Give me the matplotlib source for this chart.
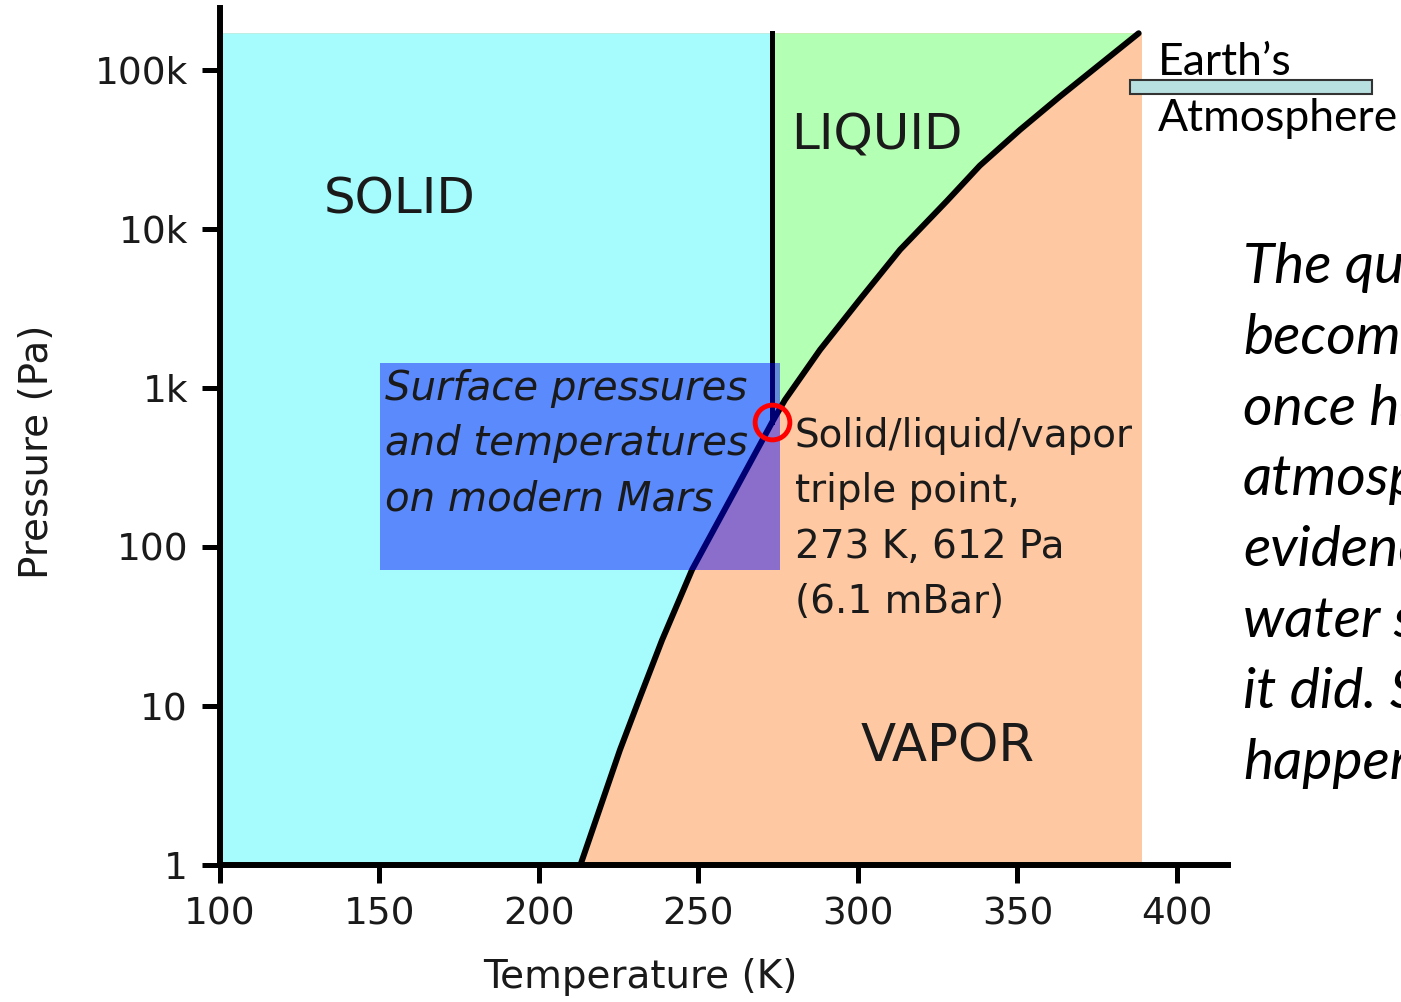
import numpy as np
import matplotlib.pyplot as plt
from matplotlib.patches import Rectangle

# sublimation / vaporization curve (K, Pa)
curveT = [213, 225.4, 231.7, 238.6, 248.0, 273.16, 277.1, 288.1, 300.6, 313.2, 327.9, 338.2, 350.8, 363.3, 388]
curveP = [1, 5.3, 11.4, 26, 72, 612, 840, 1735, 3600, 7400, 15000, 25000, 42000, 68000, 170000]
tripleT = 273.16
tripleP = 612
topP = 170000
rightT = 389

# Mars surface box
marsT = [150.2, 275.5]
marsP = [71.6, 1436]

xticks = [100, 150, 200, 250, 300, 350, 400]
yticks = [1, 10, 100, 1000, 10000, 100000]
ylabels = ['1', '10', '100', '1k', '10k', '100k']

sideLines = ["The question", "become", "once had", "atmosphere",
             "evidence", "water s", "it did. So", "happened"]

ink = '#1a1a1a'
fig = plt.figure(figsize=(14.01, 10.02), dpi=100)
ax = fig.add_axes([0.1570, 0.1367, 0.7195, 0.8553])
ax.set_yscale('log')
ax.set_xlim(100, 416)
ax.set_ylim(1, 245000)

i3 = curveT.index(tripleT)
lowT, lowP = curveT[:i3 + 1], curveP[:i3 + 1]
upT, upP = curveT[i3:], curveP[i3:]

# vapor (whole block), then solid and liquid on top
ax.fill([100, rightT, rightT, 100], [1, 1, topP, topP], color='#fdc8a2', lw=0, zorder=1)
ax.fill([100] + lowT + [tripleT, 100], [1] + lowP + [topP, topP], color='#a6fcfc', lw=0, zorder=1)
ax.fill(upT + [tripleT], upP + [topP], color='#b3ffb3', lw=0, zorder=1)

ax.plot(curveT, curveP, color='black', lw=4.3, zorder=2, solid_capstyle='round',
        solid_joinstyle='round')
ax.plot([tripleT, tripleT], [tripleP, topP], color='black', lw=3.6, zorder=2)

ax.add_patch(Rectangle((marsT[0], marsP[0]), marsT[1] - marsT[0], marsP[1] - marsP[0],
                       facecolor=(0, 0, 1, 0.45), edgecolor='none', zorder=3))
ax.plot(tripleT, tripleP, 'o', ms=25, mfc='none', mec='red', mew=3.5, zorder=4)

ax.text(156.4, 15400, 'SOLID', fontsize=36, color=ink, ha='center', va='center', zorder=5)
ax.text(305.9, 38500, 'LIQUID', fontsize=36, color=ink, ha='center', va='center', zorder=5)
ax.text(328.2, 5.5, 'VAPOR', fontsize=37, color=ink, ha='center', va='center', zorder=5)
ax.text(151.7, 445, 'Surface pressures\nand temperatures\non modern Mars', fontsize=29,
        style='italic', color=ink, ha='left', va='center', linespacing=1.52, zorder=5)
ax.text(280.2, 150, 'Solid/liquid/vapor\ntriple point,\n273 K, 612 Pa\n(6.1 mBar)', fontsize=28,
        color=ink, ha='left', va='center', linespacing=1.58, zorder=5)

for s in ['top', 'right']:
    ax.spines[s].set_visible(False)
for s in ['left', 'bottom']:
    ax.spines[s].set_linewidth(4.3)
    ax.spines[s].set_zorder(6)
ax.set_xticks(xticks)
ax.set_yticks(yticks)
ax.set_yticklabels(ylabels)
ax.yaxis.set_minor_locator(plt.NullLocator())
ax.tick_params(length=13, width=3.6, labelsize=27, labelcolor=ink, pad=10)
ax.set_xlabel('Temperature (K)', fontsize=28, color=ink)
ax.set_ylabel('Pressure (Pa)', fontsize=28, color=ink)
ax.xaxis.set_label_coords(0.417, -0.108)
ax.yaxis.set_label_coords(-0.163, 0.482)

# Earth's atmosphere marker, outside the plot
fig.patches.append(Rectangle((0.8066, 0.9062), 0.1727, 0.014, transform=fig.transFigure,
                             facecolor='#b9e0e1', edgecolor='#333333', lw=1.5))
fig.text(0.8266, 0.925, 'Earth\u2019s', fontsize=32, family='Lato', va='baseline')
fig.text(0.8266, 0.869, 'Atmosphere', fontsize=32, family='Lato', va='baseline')

for k, line in enumerate(sideLines):
    fig.text(1243 / 1401, 1 - (283 + 70.8 * k) / 1002, line, fontsize=41,
             family='Lato', style='italic', va='baseline')

fig.savefig('out.png', dpi=100)
